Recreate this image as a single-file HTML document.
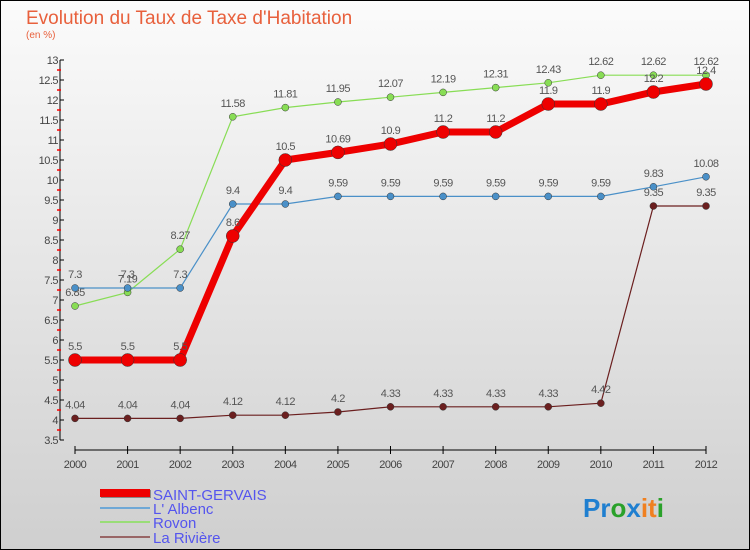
<!DOCTYPE html>
<html><head><meta charset="utf-8"><style>
body{margin:0;}
#c{width:750px;height:550px;position:relative;overflow:hidden;}
text{font-family:"Liberation Sans","DejaVu Sans",sans-serif;}
</style></head><body>
<div id="c">
<svg id="s" width="750" height="550" xmlns="http://www.w3.org/2000/svg">
<defs><linearGradient id="bg" x1="0" y1="0" x2="0" y2="1"><stop offset="0" stop-color="#fbfbfb"/><stop offset="1" stop-color="#cfcfcf"/></linearGradient></defs>
<rect x="0.5" y="0.5" width="749" height="549" fill="url(#bg)" stroke="#000"/>
<text x="26" y="24" font-size="19" fill="#e8603c">Evolution du Taux de Taxe d'Habitation</text>
<text x="26" y="38" font-size="10" fill="#e8603c">(en %)</text>
<g id="axes"></g><g id="series"></g>
<g>
<rect x="101" y="490" width="50" height="8" fill="#888"/>
<rect x="100" y="489" width="50" height="8" fill="#e00"/>
<text x="153" y="500" font-size="15" fill="#5555ee">SAINT-GERVAIS</text>
<line x1="100" y1="508" x2="150" y2="508" stroke="#6fa8d6" stroke-width="2"/>
<text x="153" y="514" font-size="15" fill="#5555ee">L' Albenc</text>
<line x1="100" y1="522" x2="150" y2="522" stroke="#99dd77" stroke-width="2"/>
<text x="153" y="528" font-size="15" fill="#5555ee">Rovon</text>
<line x1="100" y1="537" x2="150" y2="537" stroke="#996666" stroke-width="2"/>
<text x="153" y="543" font-size="15" fill="#5555ee">La Rivière</text>
</g>
<text x="583" y="517" font-size="26" font-weight="bold"><tspan fill="#1f7fd0">Pr</tspan><tspan fill="#2aa12a">o</tspan><tspan fill="#1f7fd0">x</tspan><tspan fill="#f08020">it</tspan><tspan fill="#2aa12a">i</tspan></text>
</svg></div>
<script>
const years=[2000,2001,2002,2003,2004,2005,2006,2007,2008,2009,2010,2011,2012];
const yTicks=[3.5,4,4.5,5,5.5,6,6.5,7,7.5,8,8.5,9,9.5,10,10.5,11,11.5,12,12.5,13];
const saintGervais=[5.5,5.5,5.5,8.6,10.5,10.69,10.9,11.2,11.2,11.9,11.9,12.2,12.4];
const albenc=[7.3,7.3,7.3,9.4,9.4,9.59,9.59,9.59,9.59,9.59,9.59,9.83,10.08];
const rovon=[6.85,7.19,8.27,11.58,11.81,11.95,12.07,12.19,12.31,12.43,12.62,12.62,12.62];
const laRiviere=[4.04,4.04,4.04,4.12,4.12,4.2,4.33,4.33,4.33,4.33,4.42,9.35,9.35];
const NS="http://www.w3.org/2000/svg";
const X=i=>75+i*(706-75)/(years.length-1);
const Y=v=>60+(13-v)*40;
function mk(t,a,p){const e=document.createElementNS(NS,t);for(const k in a)e.setAttribute(k,a[k]);p.appendChild(e);return e;}
const ax=document.getElementById('axes');
let l=mk('line',{x1:60,y1:Y(13),x2:60,y2:Y(3.5),stroke:'#000','stroke-width':1},ax);


yTicks.forEach((v,k)=>{
 mk('line',{x1:60,y1:Y(v),x2:64,y2:Y(v),stroke:'#000'},ax);
 if(k>0) mk('line',{x1:57,y1:Y(v)+10,x2:61,y2:Y(v)+10,stroke:'#f00','stroke-width':1.5},ax);
 const t=mk('text',{x:58,y:Y(v)+4,'font-size':11,'text-anchor':'end',fill:'#444','letter-spacing':'-0.5'},ax);
 t.textContent=v;
 
 
});
l=mk('line',{x1:X(0),y1:450,x2:X(12),y2:450,stroke:'#000'},ax);


years.forEach((y,i)=>{
 mk('line',{x1:X(i),y1:446,x2:X(i),y2:454,stroke:'#000'},ax);
 const t=mk('text',{x:X(i),y:468,'font-size':11,'text-anchor':'middle',fill:'#444','letter-spacing':'-0.5'},ax);
 t.textContent=y;
 
 
});
const sg=document.getElementById('series');
function draw(arr,col,w,r,name){
 const g=mk('g',{},sg);
 
 
 const p=mk('polyline',{points:arr.map((v,i)=>X(i)+','+Y(v)).join(' '),fill:'none',stroke:col,'stroke-width':w},g);
 
 
 arr.forEach((v,i)=>{
  const c=mk('circle',{cx:X(i),cy:Y(v),r:r,fill:col,stroke:'#333','stroke-width':0.5},g);
  
  
  const t=mk('text',{x:X(i),y:Y(v)-10,'font-size':11,'text-anchor':'middle',fill:'#555','letter-spacing':'-0.5'},g);
  t.textContent=v;
  
  
 });
}
draw(laRiviere,'#6b1f1f',1.2,3.5,'la-riviere');
draw(rovon,'#88dd55',1.2,3.5,'rovon');
draw(albenc,'#4a90c8',1.2,3.5,'albenc');
draw(saintGervais,'#ee0000',7,6.5,'saint-gervais');
</script>
</body></html>
